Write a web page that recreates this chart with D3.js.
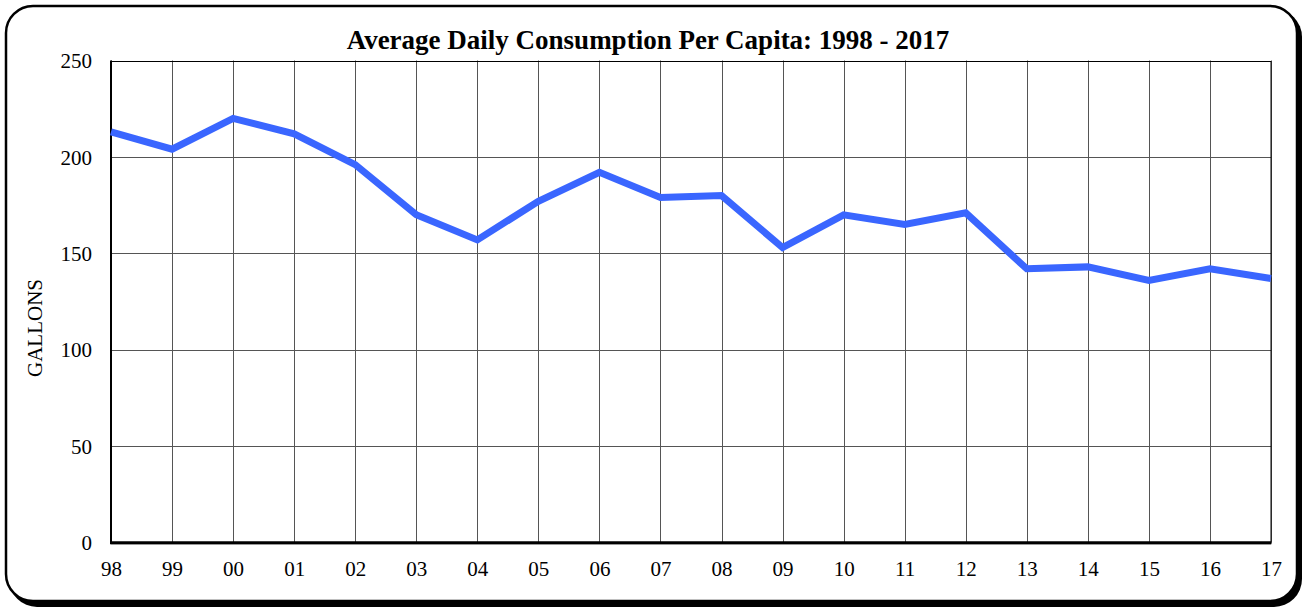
<!DOCTYPE html>
<html><head><meta charset="utf-8">
<script src="https://cdn.jsdelivr.net/npm/d3@7"></script>
<style>html,body{margin:0;padding:0;background:#fff;}svg{display:block;}</style>
</head><body>
<svg id="c" width="1305" height="610"></svg>
<script>
const years = ["98","99","00","01","02","03","04","05","06","07","08","09","10","11","12","13","14","15","16","17"];
const gallons = [213,204,220,212,196,170,157,177,192,179,180,153,170,165,171,142,143,136,142,137];
const yTicks = [0,50,100,150,200,250];
const title = "Average Daily Consumption Per Capita: 1998 - 2017";
const yLabel = "GALLONS";

const svg = d3.select("#c");
const font = "'Liberation Serif','Times New Roman',serif";
// frame shadow + frame
svg.append("rect").attr("x",9).attr("y",9).attr("width",1293).attr("height",598).attr("rx",28).attr("fill","#000");
svg.append("rect").attr("x",6).attr("y",6).attr("width",1291).attr("height",595).attr("rx",27).attr("fill","#fff").attr("stroke","#000").attr("stroke-width",2.5);

const m = {l:111, r:1271, t:60.5, b:542.7};
const x = d3.scalePoint().domain(years).range([m.l,m.r]);
const y = d3.scaleLinear().domain([0,250]).range([m.b,m.t]);

const g = svg.append("g");
// grid
g.selectAll("line.v").data(years).join("line").attr("class","v")
  .attr("x1",d=>Math.round(x(d))+0.5).attr("x2",d=>Math.round(x(d))+0.5).attr("y1",m.t).attr("y2",m.b)
  .attr("stroke","#555").attr("stroke-width",1);
g.selectAll("line.h").data(yTicks).join("line").attr("class","h")
  .attr("x1",m.l).attr("x2",m.r).attr("y1",d=>Math.round(y(d))+0.5).attr("y2",d=>Math.round(y(d))+0.5)
  .attr("stroke","#555").attr("stroke-width",1);
// plot border
svg.append("rect").attr("x",m.l+0.5).attr("y",Math.round(m.t)+0.5).attr("width",m.r-m.l-0.5).attr("height",m.b-m.t).attr("fill","none").attr("stroke","#000").attr("stroke-width",1);
svg.append("line").attr("x1",m.l).attr("x2",m.l).attr("y1",m.t).attr("y2",m.b+1).attr("stroke","#000").attr("stroke-width",2);
svg.append("line").attr("x1",m.l-1).attr("x2",m.r).attr("y1",m.b).attr("y2",m.b).attr("stroke","#000").attr("stroke-width",3);

// axes
const yAxis = d3.axisLeft(y).tickValues(yTicks).tickSize(0).tickPadding(0);
const ya = svg.append("g").attr("transform",`translate(${m.l-19},0)`).call(yAxis);
ya.select(".domain").remove();
ya.selectAll("text").attr("font-family",font).attr("font-size",21).attr("fill","#000").attr("dy","0.34em");

const xAxis = d3.axisBottom(x).tickSize(0).tickPadding(0);
const xa = svg.append("g").attr("transform",`translate(0,${m.b})`).call(xAxis);
xa.select(".domain").remove();
xa.selectAll("text").attr("font-family",font).attr("font-size",21).attr("fill","#000").attr("y",33.5).attr("dy",0);

// line
const line = d3.line().x((d,i)=>x(years[i])).y(d=>y(d));
svg.append("path").datum(gallons).attr("d",line).attr("fill","none")
  .attr("stroke","#3a66ff").attr("stroke-width",7).attr("stroke-linejoin","miter");

// title
svg.append("text").attr("x",648).attr("y",49).attr("text-anchor","middle")
  .attr("font-family",font).attr("font-weight","bold").attr("font-size",27).text(title);
// y label
svg.append("text").attr("transform",`translate(42,328) rotate(-90)`).attr("text-anchor","middle")
  .attr("font-family",font).attr("font-size",21).text(yLabel);
</script>
</body></html>
